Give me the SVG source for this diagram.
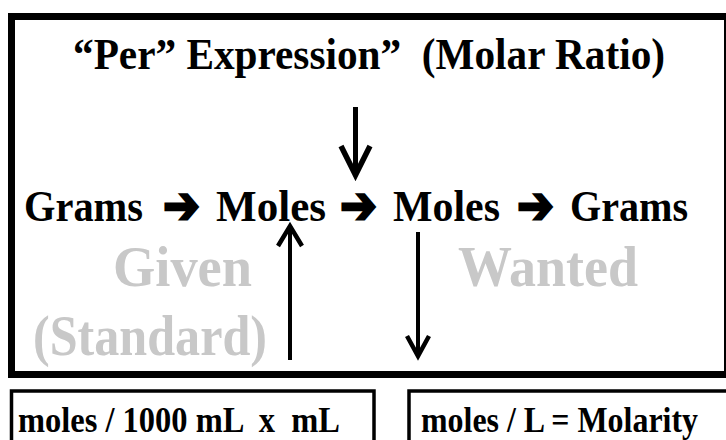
<svg xmlns="http://www.w3.org/2000/svg" width="726" height="440" viewBox="0 0 726 440">
<style>
.t{font-family:"Liberation Serif","Times New Roman",serif;font-weight:bold;fill:#000}
.g{font-family:"Liberation Serif","Times New Roman",serif;font-weight:bold;fill:#c8c8c8;font-size:58px}
.ar{font-family:"DejaVu Sans",sans-serif;font-size:52px;fill:#000;stroke:#000;stroke-width:2.6;stroke-linejoin:miter}
.box{fill:none;stroke:#000}
.sh{stroke:#000;fill:none;stroke-linecap:butt}
</style>
<rect width="726" height="440" fill="#fff"/>
<g id="main-box">
<rect class="box" x="11.5" y="16.5" width="716" height="358" stroke-width="7"/>
<text class="t" x="73" y="69" font-size="44" textLength="592" lengthAdjust="spacingAndGlyphs" xml:space="preserve">“Per” Expression”  (Molar Ratio)</text>
<text class="t" x="24" y="221" font-size="45" textLength="119" lengthAdjust="spacingAndGlyphs">Grams</text>
<text class="ar" x="163" y="223" textLength="37" lengthAdjust="spacingAndGlyphs">➔</text>
<text class="t" x="216" y="221" font-size="45" textLength="110" lengthAdjust="spacingAndGlyphs">Moles</text>
<text class="ar" x="340" y="223" textLength="37" lengthAdjust="spacingAndGlyphs">➔</text>
<text class="t" x="393" y="221" font-size="45" textLength="107" lengthAdjust="spacingAndGlyphs">Moles</text>
<text class="ar" x="517" y="223" textLength="37" lengthAdjust="spacingAndGlyphs">➔</text>
<text class="t" x="570" y="221" font-size="45" textLength="118" lengthAdjust="spacingAndGlyphs">Grams</text>
<text class="g" x="113" y="286" textLength="139" lengthAdjust="spacingAndGlyphs">Given</text>
<text class="g" x="458" y="286" textLength="180" lengthAdjust="spacingAndGlyphs">Wanted</text>
<text class="g" x="33" y="355" textLength="234" lengthAdjust="spacingAndGlyphs">(Standard)</text>
</g>
<g id="box-left">
<rect class="box" x="11.5" y="391" width="362.5" height="60" stroke-width="3.5"/>
<text class="t" x="18" y="432" font-size="35" textLength="322" lengthAdjust="spacingAndGlyphs" xml:space="preserve">moles / 1000 mL  x  mL</text>
</g>
<g id="box-right">
<rect class="box" x="409" y="391" width="330" height="60" stroke-width="3.5"/>
<text class="t" x="421" y="432" font-size="35" textLength="277" lengthAdjust="spacingAndGlyphs">moles / L = Molarity</text>
</g>
<g id="connectors">
<path class="sh" d="M355.5 107 V176" stroke-width="5"/>
<path class="sh" d="M341 146 L355.5 175 L370 146" stroke-width="5.5"/>
<path class="sh" d="M290 360 V228" stroke-width="4"/>
<path class="sh" d="M278 246 L290 226 L302 246" stroke-width="4.5"/>
<path class="sh" d="M418 232 V355" stroke-width="4"/>
<path class="sh" d="M407 336 L418 356 L429 336" stroke-width="4.5"/>
</g>
</svg>
